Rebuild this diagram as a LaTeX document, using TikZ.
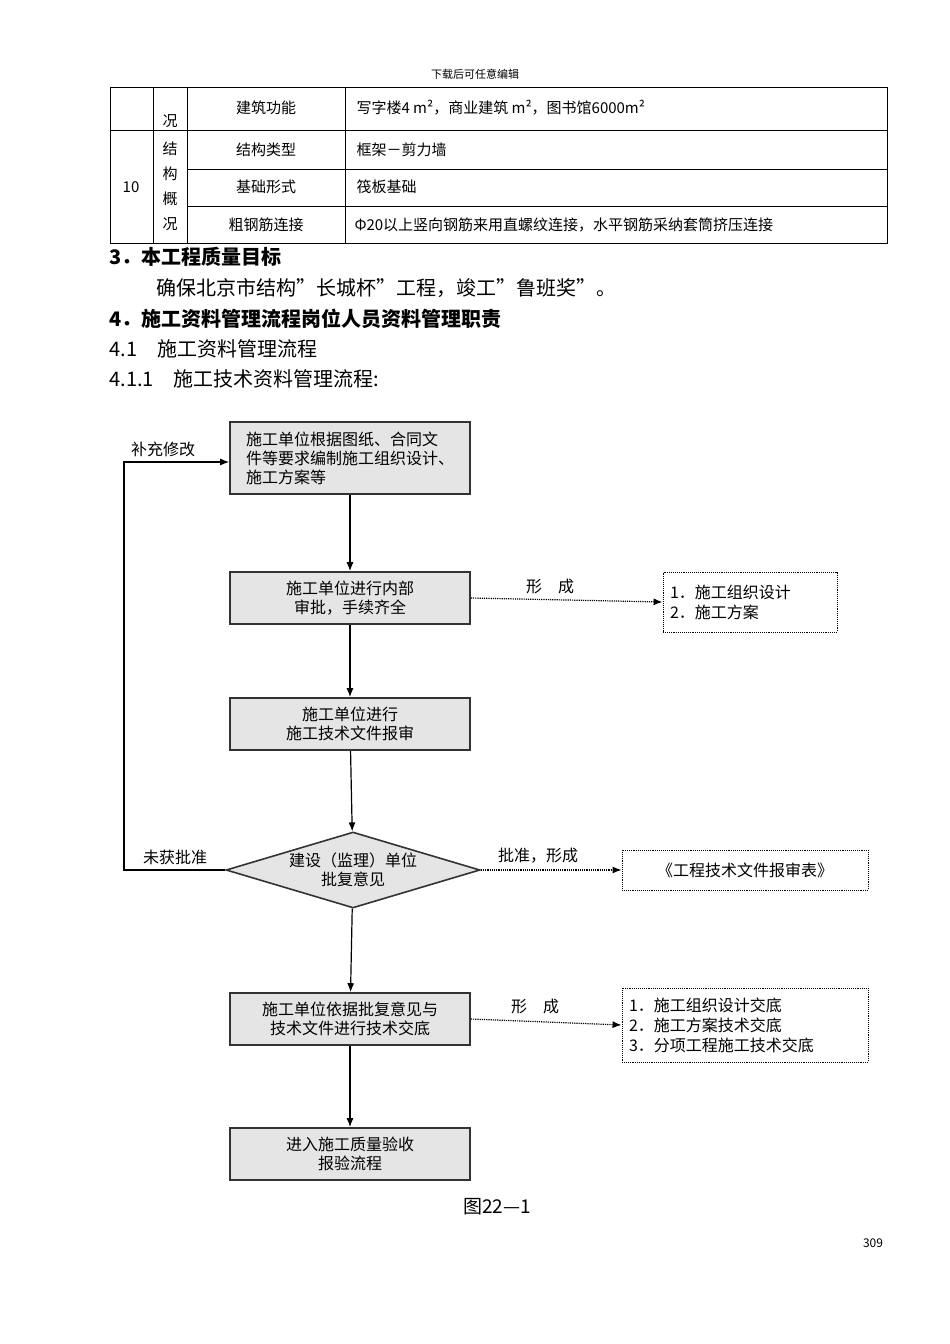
\documentclass[tikz,border=0pt]{standalone}
\usepackage{fontspec}
\setmainfont{Noto Sans CJK SC}
\newfontfamily\cjk{Noto Sans CJK SC}
\usetikzlibrary{shapes.geometric,arrows.meta}
\begin{document}
\begin{tikzpicture}[x=1pt,y=-1pt,
 box/.style={draw=black!80,line width=1.6pt,fill=black!10,inner sep=0,align=center,font=\fontsize{16}{19}\selectfont},
 rbox/.style={draw,densely dotted,line width=0.9pt,inner sep=0,align=left,font=\fontsize{16}{20}\selectfont},
 arr/.style={-{Latex[length=9pt,width=7pt]},line width=1.2pt},
 darr/.style={arr,densely dotted},
 lab/.style={font=\fontsize{16}{19}\selectfont},
 tb/.style={font=\fontsize{15}{18}\selectfont},
 body/.style={anchor=west,font=\fontsize{20}{24}\selectfont}]
\useasboundingbox (0,0) rectangle (950,1344);
\fill[white] (0,0) rectangle (950,1344);
\node[font=\fontsize{11}{13}\selectfont] (hd) at (475,74) {下载后可任意编辑};
% table
\draw[line width=0.8pt] (110,87) rectangle (887,243);
\draw[line width=0.8pt] (110,130) -- (887,130) (187,169) -- (887,169) (187,206) -- (887,206)
 (153,87) -- (153,243) (187,87) -- (187,243) (345,87) -- (345,243);
\node[tb] (t0) at (170,121) {况};
\node[tb] (t1) at (266,108) {建筑功能};
\node[tb,anchor=west] (t2) at (353,108) {写字楼4 m²，商业建筑 m²，图书馆6000m²};
\node[tb] (t3) at (131,187) {10};
\node[tb,align=center,font=\fontsize{15}{25}\selectfont] (t4) at (170,186) {结\\构\\概\\况};
\node[tb] (t5) at (266,150) {结构类型};
\node[tb,anchor=west] (t6) at (353,150) {框架－剪力墙};
\node[tb] (t7) at (266,187) {基础形式};
\node[tb,anchor=west] (t8) at (353,187) {筏板基础};
\node[tb] (t9) at (266,225) {粗钢筋连接};
\node[tb,anchor=west] (t10) at (351,225) {Φ20以上竖向钢筋来用直螺纹连接，水平钢筋采纳套筒挤压连接};
% body text
\node[body,font=\bfseries\fontsize{20}{24}\selectfont] (h3) at (106,257) {3．本工程质量目标};
\node[body] (p1) at (153,288) {确保北京市结构”长城杯”工程，竣工”鲁班奖”。};
\node[body,font=\bfseries\fontsize{20}{24}\selectfont] (h4) at (106,319) {4．施工资料管理流程岗位人员资料管理职责};
\node[body] (h41) at (106,349) {4.1　施工资料管理流程};
\node[body] (h411) at (106,379) {4.1.1　施工技术资料管理流程:};
% flowchart
\node[box,minimum width=240,minimum height=72,align=left] (b1) at (350,458) {施工单位根据图纸、合同文\\件等要求编制施工组织设计、\\施工方案等};
\node[box,minimum width=240,minimum height=52] (b2) at (350,598) {施工单位进行内部\\审批，手续齐全};
\node[box,minimum width=240,minimum height=52] (b3) at (350,724) {施工单位进行\\施工技术文件报审};
\node[box,diamond,aspect=3.3,minimum width=254,minimum height=76] (d) at (353,870) {建设（监理）单位\\批复意见};
\node[box,minimum width=240,minimum height=52] (b5) at (350,1019) {施工单位依据批复意见与\\技术文件进行技术交底};
\node[box,minimum width=240,minimum height=52] (b6) at (350,1154) {进入施工质量验收\\报验流程};
\node[rbox,minimum width=174,minimum height=60,text width=160] (r1) at (750,602) {1．施工组织设计\\2．施工方案};
\node[rbox,minimum width=246,minimum height=40,align=center] (r2) at (745,870) {《工程技术文件报审表》};
\node[rbox,minimum width=246,minimum height=74,text width=232] (r3) at (745,1025) {1．施工组织设计交底\\2．施工方案技术交底\\3．分项工程施工技术交底};
\draw[arr] (b1) -- (b2);
\draw[arr] (b2) -- (b3);
\draw[arr] (b3) -- (d);
\draw[arr] (d) -- (b5);
\draw[arr] (b5) -- (b6);
\draw[darr] (b2.east) -- (r1.west);
\draw[darr] (d.east) -- (r2.west);
\draw[darr] (b5.east) -- (r3.west);
\coordinate (c1) at (124,870);
\coordinate (c2) at (124,462);
\draw[arr] (d.west) -- (c1) -- (c2) -- (b1.west|-c2);
\node[lab] (l1) at (550,586) {形\quad 成};
\node[lab] (l2) at (538,856) {批准，形成};
\node[lab] (l3) at (535,1006) {形\quad 成};
\node[lab] (l4) at (163,449) {补充修改};
\node[lab] (l5) at (175,857) {未获批准};
\node[font=\fontsize{19}{22}\selectfont] (cap) at (497,1207) {图22—1};
\node[font=\fontsize{12}{14}\selectfont] (pg) at (873,1243) {309};
\end{tikzpicture}
\end{document}
